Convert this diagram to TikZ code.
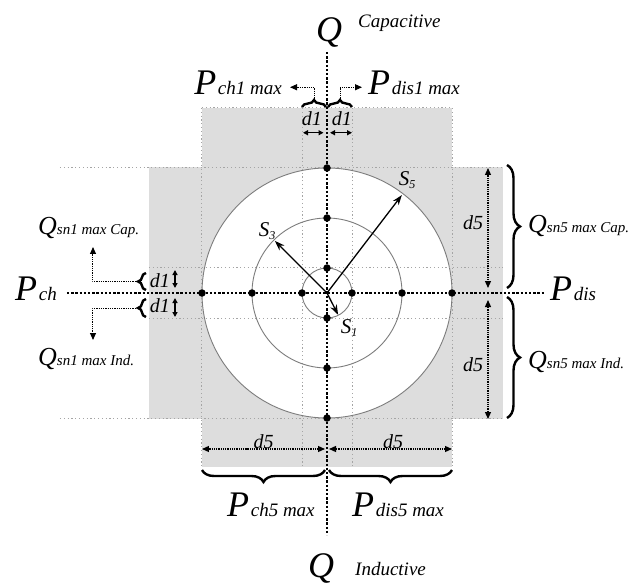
\documentclass[tikz,border=0pt]{standalone}
\usepackage{fontspec}
\setmainfont{Liberation Serif}
\usetikzlibrary{arrows.meta,positioning,decorations.pathreplacing}
\definecolor{bandgray}{RGB}{221,221,221}
\definecolor{gridgray}{RGB}{165,165,165}
\definecolor{ringgray}{RGB}{125,125,125}
\tikzset{
  qaxis/.style={line width=2.6pt, dash pattern=on 2.4pt off 1.8pt},
  gline/.style={gridgray, line width=1pt, dash pattern=on 1.2pt off 2.6pt},
  ring/.style={ringgray, line width=0.9pt},
  pdot/.style={circle, fill=black, inner sep=0pt, minimum size=7.5pt},
  vec/.style={-{Stealth[length=10pt,width=7pt]}, line width=1.3pt},
  meas/.style={{Triangle[length=7pt,width=6pt]}-{Triangle[length=7pt,width=6pt]}, line width=1.2pt, dash pattern=on 1pt off 0.8pt},
  dmeas/.style={{Triangle[length=5pt,width=5pt]}-{Triangle[length=5pt,width=5pt]}, line width=1.2pt},
  lead/.style={-{Triangle[length=7pt,width=6pt]}, line width=1pt, dash pattern=on 1pt off 0.8pt},
  brc/.style={decorate, decoration={brace, amplitude=#1}, line width=2.4pt},
  lbl/.style={inner sep=0pt, font=\itshape}
}
\newcommand{\bigP}[2]{{\fontsize{36}{40}\selectfont #1}\,{\fontsize{19}{22}\selectfont #2}}
\newcommand{\qsn}[1]{{\fontsize{26}{30}\selectfont Q}{\fontsize{15}{17}\selectfont #1}}
\newcommand{\dlen}[1]{\fontsize{20}{24}\selectfont d#1}
\newcommand{\svec}[1]{\fontsize{21}{24}\selectfont S\raisebox{-3pt}{\fontsize{12}{14}\selectfont #1}}

\begin{document}
\begin{tikzpicture}[x=25pt,y=25pt]
\useasboundingbox (-13.08,-11.72) rectangle (12.36,11.72);
% shaded bands and the outer disk
\fill[bandgray] (-5,-6.96) rectangle (5,7.4);
\fill[bandgray] (-7.12,-5.04) rectangle (7.04,5.04);
\filldraw[ring, fill=white] (0,0) circle (5);
% light grid
\foreach \x in {-5,-1,1,5} \draw[gline] (\x,7.4) -- (\x,-6.96);
\draw[gline] (-5,7.4) -- (5,7.4);
\foreach \y in {-1,1} \draw[gline] (-7.12,\y) -- (7.04,\y);
\foreach \y in {-5,5} \draw[gline] (-10.68,\y) -- (7.04,\y);
\draw[ring] (0,0) circle (3) (0,0) circle (1);
% axes
\coordinate (o) at (0,0);
\coordinate (axl) at (-10.4,0); \coordinate (axr) at (8.72,0);
\coordinate (axt) at (0,9.64); \coordinate (axb) at (0,-9.68);
\draw[qaxis] (axl) -- (axr); \draw[qaxis] (axt) -- (axb);
% points on the rings
\foreach \r in {1,3,5} {
  \node[pdot] (n\r) at (0,\r) {}; \node[pdot] (s\r) at (0,-\r) {};
  \node[pdot] (e\r) at (\r,0) {}; \node[pdot] (w\r) at (-\r,0) {};
}
% apparent power vectors
\coordinate (t1) at (-63:0.98); \coordinate (t3) at (135:2.95); \coordinate (t5) at (52.6:4.93);
\draw[vec] (o) -- (t1); \draw[vec] (o) -- (t3); \draw[vec] (o) -- (t5);
\node[lbl] (S1) at (0.88,-1.4) {\svec{1}};
\node[lbl] (S3) at (-2.4,2.48) {\svec{3}};
\node[lbl] (S5) at (3.2,4.5) {\svec{5}};
% top
\node[lbl, anchor=base] (qcap) at (0.08,10.05) {\fontsize{36}{40}\selectfont Q};
\node[lbl, anchor=base west] (capt) at (1.24,10.6) {\fontsize{19}{22}\selectfont Capacitive};
\node[lbl, anchor=base east] (pch1) at (-1.8,7.92) {\bigP{P}{ch1 max}};
\node[lbl, anchor=base west] (pdis1) at (1.64,7.92) {\bigP{P}{dis1 max}};
\draw[brc=7pt] (-1,7.44) -- (-0.04,7.44);
\draw[brc=7pt] (0.04,7.44) -- (1,7.44);
\coordinate (bt1) at (-0.52,7.74); \coordinate (lt1) at (-1.48,8.23);
\coordinate (bt2) at (0.52,7.74); \coordinate (lt2) at (1.4,8.23);
\draw[lead] (bt1) |- (lt1); \draw[lead] (bt2) |- (lt2);
\node[lbl] (d1l) at (-0.61,6.96) {\dlen{1}};
\node[lbl] (d1r) at (0.59,6.96) {\dlen{1}};
\coordinate (m1a) at (-0.96,6.41); \coordinate (m1b) at (-0.14,6.41);
\coordinate (m1c) at (0.12,6.41); \coordinate (m1d) at (1,6.41);
\draw[dmeas] (m1a) -- (m1b); \draw[dmeas] (m1c) -- (m1d);
% left
\node[lbl, anchor=base west] (pch) at (-12.48,-0.28) {\bigP{P}{ch}};
\draw[brc=8pt] (-7.24,0.12) -- (-7.24,0.8);
\draw[brc=8pt] (-7.24,-0.96) -- (-7.24,-0.24);
\node[lbl] (d1u) at (-6.68,0.48) {\dlen{1}};
\node[lbl] (d1d) at (-6.68,-0.52) {\dlen{1}};
\coordinate (m2a) at (-6.08,0.92); \coordinate (m2b) at (-6.08,0.2);
\coordinate (m2c) at (-6.08,-0.2); \coordinate (m2d) at (-6.08,-0.96);
\draw[dmeas] (m2a) -- (m2b); \draw[dmeas] (m2c) -- (m2d);
\coordinate (bl1) at (-7.56,0.46); \coordinate (ll1) at (-9.36,1.84);
\coordinate (bl2) at (-7.56,-0.6); \coordinate (ll2) at (-9.36,-1.88);
\draw[lead] (bl1) -| (ll1); \draw[lead] (bl2) -| (ll2);
\node[lbl, anchor=base west] (qsn1c) at (-11.56,2.32) {\qsn{sn1 max Cap.}};
\node[lbl, anchor=base west] (qsn1i) at (-11.56,-2.9) {\qsn{sn1 max Ind.}};
% right
\node[lbl, anchor=base west] (pdis) at (8.92,-0.28) {\bigP{P}{dis}};
\draw[brc=13pt] (7.2,5.12) -- (7.2,0.2);
\draw[brc=13pt] (7.2,-0.16) -- (7.2,-5.0);
\node[lbl] (d5u) at (5.84,2.8) {\dlen{5}};
\node[lbl] (d5d) at (5.84,-2.88) {\dlen{5}};
\coordinate (m3a) at (6.44,5.0); \coordinate (m3b) at (6.44,0.2);
\coordinate (m3c) at (6.44,-0.28); \coordinate (m3d) at (6.44,-5.04);
\draw[meas] (m3a) -- (m3b); \draw[meas] (m3c) -- (m3d);
\node[lbl, anchor=base west] (qsn5c) at (8.04,2.4) {\qsn{sn5 max Cap.}};
\node[lbl, anchor=base west] (qsn5i) at (8.04,-3.0) {\qsn{sn5 max Ind.}};
% bottom
\node[lbl] (d5l) at (-2.54,-5.94) {\dlen{5}};
\node[lbl] (d5r) at (2.64,-5.94) {\dlen{5}};
\coordinate (m4a) at (-5,-6.24); \coordinate (m4b) at (-0.08,-6.24);
\coordinate (m4c) at (0.08,-6.24); \coordinate (m4d) at (5,-6.24);
\draw[meas] (m4a) -- (m4b); \draw[meas] (m4c) -- (m4d);
\draw[brc=12pt] (-0.08,-7.08) -- (-5,-7.08);
\draw[brc=12pt] (5,-7.08) -- (0.08,-7.08);
\node[lbl, anchor=base west] (pch5) at (-4.0,-8.92) {\bigP{P}{ch5 max}};
\node[lbl, anchor=base west] (pdis5) at (1.0,-8.92) {\bigP{P}{dis5 max}};
\node[lbl, anchor=base] (qind) at (-0.24,-11.36) {\fontsize{36}{40}\selectfont Q};
\node[lbl, anchor=base west] (indt) at (1.12,-11.28) {\fontsize{19}{22}\selectfont Inductive};
\end{tikzpicture}
\end{document}
